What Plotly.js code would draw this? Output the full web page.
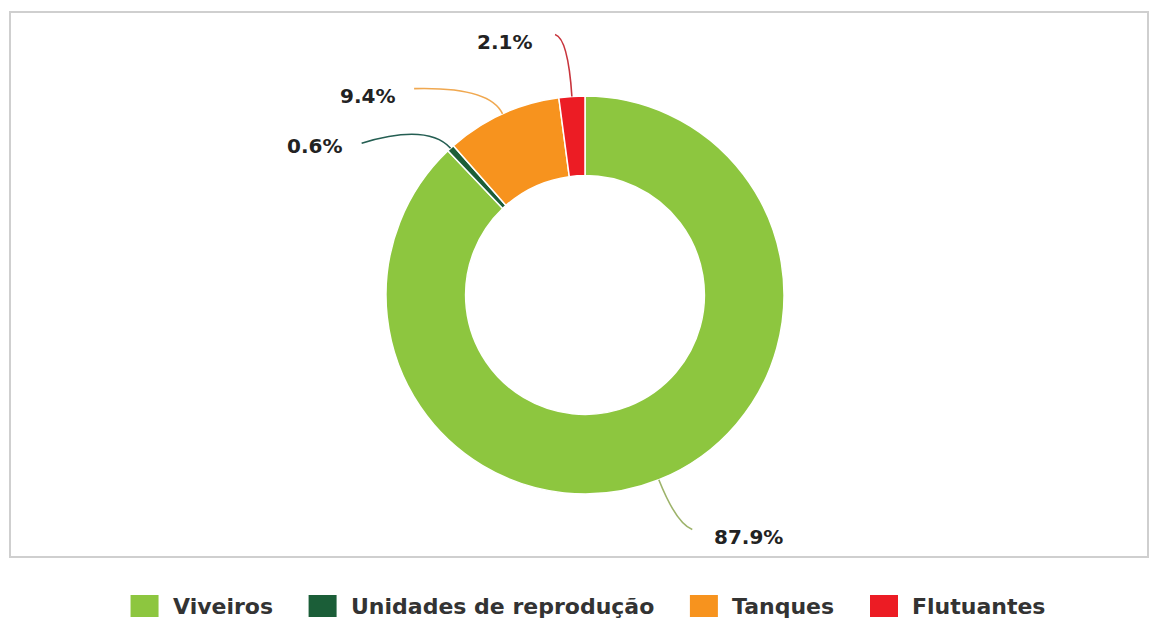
<!DOCTYPE html>
<html>
<head>
<meta charset="utf-8">
<script src="https://cdn.plot.ly/plotly-3.0.1.min.js"></script>
<style>
  html, body { margin: 0; padding: 0; background: #fff; }
  #chart { width: 1149px; height: 619px; }
</style>
</head>
<body>
<div id="chart"></div>
<script>
// categories and shares (%)
const categories = ["Viveiros", "Unidades de reprodução", "Tanques", "Flutuantes"];
const shares = [87.9, 0.6, 9.4, 2.1];
const colors = ["#8DC63F", "#1B5E38", "#F7931E", "#EC1C24"];
const lineColors = ["#9DB36A", "#245E52", "#F0A850", "#C8343C"];

// page geometry (px)
const W = 1149, H = 619;
const M = { l: 10, r: 0, t: 12, b: 62 };
const PW = W - M.l - M.r, PH = H - M.t - M.b;
const cx = 585, cy = 295, R = 199;

const toPX = x => (x - M.l) / PW;
const toPY = y => 1 - (y - M.t) / PH;

// leader line styling per slice: control point beyond radius, end offset, label side
const leaders = [
  { ext: 47, dx: 16, dy: 6, side: "left", lx: 20, ly: 8 },
  { ext: 34, dx: -66, dy: 20, side: "right", lx: -18, ly: 3 },
  { ext: 30, dx: -76, dy: 2, side: "right", lx: -17, ly: 7 },
  { ext: 58, dx: -13, dy: -4, side: "right", lx: -21, ly: 7 }
];

const labelFont = { family: "DejaVu Sans", size: 20, color: "#222", weight: "bold" };

const total = shares.reduce((a, b) => a + b, 0);
const shapes = [];
const annotations = [];
let cum = 0;
shares.forEach((v, i) => {
  const mid = (cum + v / 2) / total * 2 * Math.PI; // clockwise from top
  cum += v;
  const sx = Math.sin(mid), sy = -Math.cos(mid);
  const A = [cx + R * sx, cy + R * sy];
  const L = leaders[i];
  const C = [cx + (R + L.ext) * sx, cy + (R + L.ext) * sy];
  const E = [C[0] + L.dx, C[1] + L.dy];
  shapes.push({
    type: "path", xref: "paper", yref: "paper",
    path: `M${toPX(A[0])},${toPY(A[1])} Q${toPX(C[0])},${toPY(C[1])} ${toPX(E[0])},${toPY(E[1])}`,
    line: { color: lineColors[i], width: 1.6 }
  });
  annotations.push({
    xref: "paper", yref: "paper",
    x: toPX(E[0] + L.lx), y: toPY(E[1] + L.ly),
    xanchor: L.side, yanchor: "middle",
    text: (v / total * 100).toFixed(1) + "%",
    showarrow: false, font: labelFont
  });
});

// outer frame
shapes.push({
  type: "rect", xref: "paper", yref: "paper",
  x0: toPX(10), x1: toPX(1148), y0: toPY(12), y1: toPY(557),
  line: { color: "#cfcfcf", width: 2 }
});

// custom legend with large swatches
const legFont = "bold 22px 'DejaVu Sans'";
const ctx = document.createElement("canvas").getContext("2d");
ctx.font = legFont;
const sw = 28, sh = 22, gap = 12, spacing = 38;
const widths = categories.map(c => ctx.measureText(c).width);
const legW = widths.reduce((a, w) => a + sw + gap + w, 0) + spacing * (categories.length - 1);
let lx = 587 - legW / 2;
const ly = 606;
categories.forEach((c, i) => {
  shapes.push({
    type: "rect", xref: "paper", yref: "paper",
    x0: toPX(lx), x1: toPX(lx + sw), y0: toPY(ly - sh / 2), y1: toPY(ly + sh / 2),
    fillcolor: colors[i], line: { width: 0 }
  });
  annotations.push({
    xref: "paper", yref: "paper",
    x: toPX(lx + sw + gap), y: toPY(ly + 1),
    xanchor: "left", yanchor: "middle",
    text: c, showarrow: false,
    font: { family: "DejaVu Sans", size: 22, color: "#333", weight: "bold" }
  });
  lx += sw + gap + widths[i] + spacing;
});

const trace = {
  type: "pie",
  labels: categories,
  values: shares,
  hole: 0.6,
  sort: false,
  direction: "clockwise",
  rotation: 0,
  textinfo: "none",
  hoverinfo: "label+percent",
  marker: { colors: colors, line: { color: "#fff", width: 1.5 } },
  domain: {
    x: [toPX(cx - R), toPX(cx + R)],
    y: [toPY(cy + R), toPY(cy - R)]
  }
};

const layout = {
  width: W, height: H,
  margin: M,
  showlegend: false,
  paper_bgcolor: "#fff",
  shapes: shapes,
  annotations: annotations
};

Plotly.newPlot("chart", [trace], layout, { displayModeBar: false, staticPlot: true });
</script>
</body>
</html>
